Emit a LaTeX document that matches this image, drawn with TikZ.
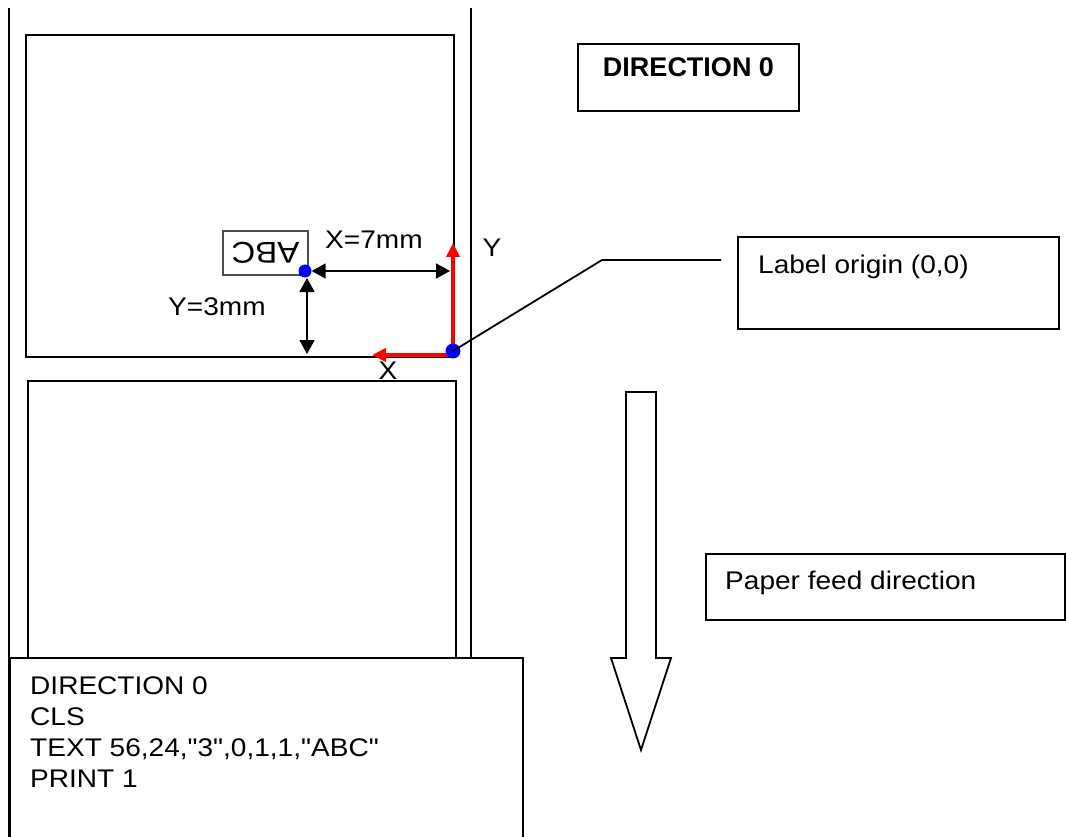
\documentclass[tikz,border=0pt]{standalone}
\usepackage{fontspec}
\newfontfamily\lib{Liberation Sans}[FakeStretch=1.1]
\newfontfamily\libb{Liberation Sans}
\usetikzlibrary{arrows.meta}
\tikzset{
  box/.style={draw, line width=1.8pt, inner sep=0pt, anchor=north west},
  txt/.style={inner sep=0pt, anchor=base west, font=\lib\fontsize{25.5}{30}\selectfont},
  dim/.style={line width=1.8pt, {Triangle[length=14pt,width=15pt]}-{Triangle[length=14pt,width=15pt]}},
  redarrow/.style={draw=red, line width=4pt, -{Triangle[length=14pt,width=13pt]}},
  dot/.style={circle, fill=blue, inner sep=0pt, minimum size=13pt},
  thinline/.style={line width=1.8pt},
}
\begin{document}
\begin{tikzpicture}[x=1pt,y=-1pt]
\useasboundingbox (0,0) rectangle (1066,837);
% tape edges
\draw[thinline] (9,8) -- (9,837);
\draw[thinline] (471,8) -- (471,657);
% labels
\node[box, minimum width=428pt, minimum height=322pt] (lab1) at (25,34) {};
\node[box, minimum width=428pt, minimum height=290pt] (lab2) at (27,380) {};
% code box
\node[box, fill=white, minimum width=513pt, minimum height=190pt] (code) at (9,657) {};
\node[txt] (c1) at (30,694) {DIRECTION 0};
\node[txt] (c2) at (30,725) {CLS};
\node[txt] (c3) at (30,756) {TEXT 56,24,"3",0,1,1,"ABC"};
\node[txt] (c4) at (30,787) {PRINT 1};
% direction box
\node[box, minimum width=221pt, minimum height=67pt] (dirbox) at (577,43) {};
\node[inner sep=0pt, anchor=base, font=\libb\fontsize{27}{30}\selectfont\bfseries] (dirtxt) at (688.5,77) {DIRECTION 0};
% label origin box
\node[box, minimum width=321pt, minimum height=92pt] (origbox) at (737,236) {};
\node[txt] (origtxt) at (758,273) {Label origin (0,0)};
% paper feed box
\node[box, minimum width=359pt, minimum height=66pt] (feedbox) at (705,553) {};
\node[txt] (feedtxt) at (725,589) {Paper feed direction};
% hollow arrow
\draw[line width=1.8pt] (626,392) -- (656,392) -- (656,658) -- (671,658) -- (641,750) -- (611,658) -- (626,658) -- cycle;
% ABC mirrored
\node[draw=black!70, line width=1.6pt, rotate=180, inner sep=0pt, font=\lib\fontsize{30}{32}\selectfont, minimum width=85pt, minimum height=44pt] (abc) at (265.5,253) {ABC};
% points
\node[dot] (p) at (305,271) {};
\coordinate (corner) at (453,355);
\coordinate (yend) at (453,243);
\coordinate (xend) at (372,355);
\coordinate (hx) at (450,271);
\coordinate (vy) at (307,354);
\coordinate (vtop) at (307,278);
\coordinate (kink) at (602,260);
\coordinate (lend) at (721,260);
% dims
\draw[dim] (p.east) -- (hx);
\draw[dim] (vtop) -- (vy);
\node[txt] (xlab) at (325,249) {X=7mm};
\node[txt] (ylab) at (168,316) {Y=3mm};
% red axes
\draw[redarrow] (corner) -- (yend);
\draw[redarrow] (corner) -- (xend);
\node[dot, minimum size=15pt] (o) at (453,351) {};
\node[txt, anchor=center] (Xax) at (388,371) {X};
\node[txt, anchor=center] (Yax) at (492,248) {Y};
% leader
\draw[thinline] (o.center) -- (kink) -- (lend);
\end{tikzpicture}
\end{document}
